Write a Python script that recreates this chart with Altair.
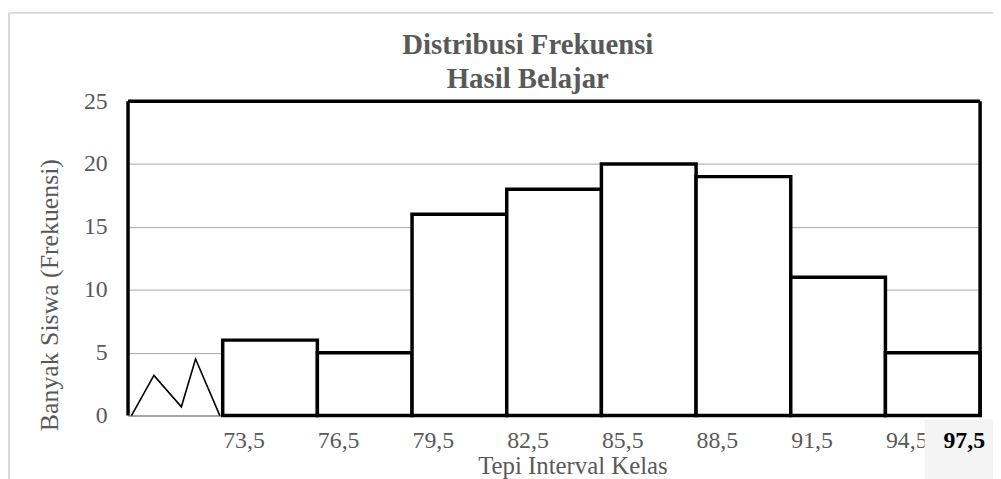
import altair as alt
import pandas as pd

# ---- data ----
lower_edges = [73.5, 76.5, 79.5, 82.5, 85.5, 88.5, 91.5, 94.5]
upper_edges = [76.5, 79.5, 82.5, 85.5, 88.5, 91.5, 94.5, 97.5]
frequencies = [6, 5, 16, 18, 20, 19, 11, 5]

tick_values = [73.5, 76.5, 79.5, 82.5, 85.5, 88.5, 91.5, 94.5]
last_edge = 97.5
y_ticks = [0, 5, 10, 15, 20, 25]

# axis-break zigzag (decorative) in data units
zig_x = [70.61, 71.32, 72.19, 72.64, 73.41]
zig_y = [0, 3.2, 0.7, 4.5, 0]

title_lines = ["Distribusi Frekuensi", "Hasil Belajar"]

x_domain = [70.5, 97.5]
y_domain = [0, 25]

FONT = "Liberation Serif"
GRAY_TXT = "#595959"

bars_df = pd.DataFrame({"lo": lower_edges, "hi": upper_edges, "freq": frequencies})
zig_df = pd.DataFrame({"x": zig_x, "y": zig_y, "order": list(range(len(zig_x)))})
frame_df = pd.DataFrame({
    "x": [x_domain[0], x_domain[0], x_domain[1]],
    "x2": [x_domain[0], x_domain[1], x_domain[1]],
    "y": [y_domain[0], y_domain[1], y_domain[0]],
    "y2": [y_domain[1], y_domain[1], y_domain[1]],
})
last_df = pd.DataFrame({"x": [last_edge], "y": [0], "label": [str(last_edge).replace(".", ",")]})

xscale = alt.Scale(domain=x_domain, nice=False, zero=False)
yscale = alt.Scale(domain=y_domain, nice=False)

W, H = 859, 317
one = pd.DataFrame({"a": [0]})

# decorative background box behind last label and outer chart frame
deco_bg = alt.Chart(one).mark_rect(fill="#f4f4f4").encode(
    x=alt.value(803), x2=alt.value(880), y=alt.value(321), y2=alt.value(400)
)
outer_v = alt.Chart(one).mark_rule(color="#d9d9d9", strokeWidth=2).encode(
    x=alt.value(-120), y=alt.value(-89), y2=alt.value(400)
)
outer_h = alt.Chart(one).mark_rule(color="#d9d9d9", strokeWidth=2).encode(
    x=alt.value(-120), x2=alt.value(880), y=alt.value(-89)
)

# chart title as two text lines
title1 = alt.Chart(pd.DataFrame({"t": [title_lines[0]]})).mark_text(
    font=FONT, fontSize=29, fontWeight="bold", color=GRAY_TXT,
    align="center", baseline="alphabetic",
).encode(text="t:N", x=alt.value(403), y=alt.value(-48))
title2 = alt.Chart(pd.DataFrame({"t": [title_lines[1]]})).mark_text(
    font=FONT, fontSize=29, fontWeight="bold", color=GRAY_TXT,
    align="center", baseline="alphabetic",
).encode(text="t:N", x=alt.value(403), y=alt.value(-13))

bars = alt.Chart(bars_df).mark_rect(fill="white", stroke="black", strokeWidth=3.5).encode(
    x=alt.X("lo:Q", scale=xscale,
            axis=alt.Axis(values=tick_values, grid=False, ticks=False,
                          domainColor="#a6a6a6", domainWidth=2,
                          labelAlign="left", labelPadding=13, labelFontSize=24,
                          labelFont=FONT, labelColor=GRAY_TXT,
                          labelExpr="replace(format(datum.value, '.1f'), '.', ',')",
                          title="Tepi Interval Kelas", titleFont=FONT, titleFontSize=25,
                          titleFontWeight="normal", titleColor=GRAY_TXT,
                          titleX=448, titleY=58, titleBaseline="alphabetic",
                          titleAlign="center", labelOverlap=False)),
    x2="hi:Q",
    y=alt.Y("freq:Q", scale=yscale,
            axis=alt.Axis(values=y_ticks, grid=True, gridColor="#a6a6a6", gridWidth=1,
                          ticks=False, domain=False, labelPadding=21, labelFontSize=24,
                          labelFont=FONT, labelColor=GRAY_TXT,
                          title="Banyak Siswa (Frekuensi)", titleFont=FONT, titleFontSize=26,
                          titleFontWeight="normal", titleColor=GRAY_TXT,
                          titleX=-79, titleY=195, titleAngle=270,
                          titleBaseline="middle", titleAlign="center")),
    y2=alt.datum(0),
)

zig = alt.Chart(zig_df).mark_line(color="black", strokeWidth=1.6).encode(
    x=alt.X("x:Q", scale=xscale), y=alt.Y("y:Q", scale=yscale), order="order:Q"
)

frame = alt.Chart(frame_df).mark_rule(color="black", strokeWidth=3.5).encode(
    x=alt.X("x:Q", scale=xscale), x2="x2:Q",
    y=alt.Y("y:Q", scale=yscale), y2="y2:Q",
)

last_lbl = alt.Chart(last_df).mark_text(
    font=FONT, fontSize=24, fontWeight="bold", color="black",
    align="right", baseline="alphabetic", dx=5, dy=33,
).encode(
    x=alt.X("x:Q", scale=xscale), y=alt.Y("y:Q", scale=yscale), text="label:N"
)

chart = alt.layer(deco_bg, outer_v, outer_h, title1, title2, bars, zig, frame, last_lbl).properties(
    width=W, height=H,
    autosize=alt.AutoSizeParams(type="none"),
    padding={"left": 121, "top": 92, "right": 13, "bottom": 62},
).configure_view(stroke=None).configure(background="white")

chart.save("out.html", embed_options={"renderer": "svg", "actions": False})
